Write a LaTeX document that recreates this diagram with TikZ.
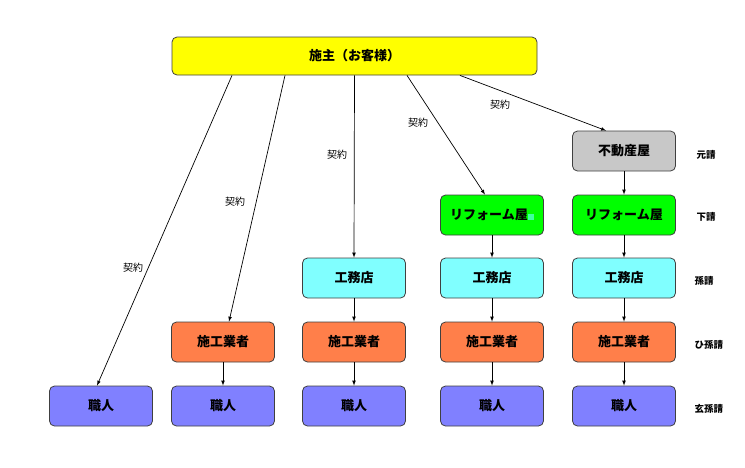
\documentclass[tikz,border=0pt]{standalone}
\usepackage{fontspec}
\setmainfont{Noto Sans CJK JP}
\usepackage{xcolor}
\definecolor{ownerY}{HTML}{FFFF00}
\definecolor{agentG}{HTML}{C8C8C8}
\definecolor{reformG}{HTML}{00FF00}
\definecolor{firmC}{HTML}{80FFFF}
\definecolor{workO}{HTML}{FF7F4A}
\definecolor{craftP}{HTML}{8080FF}
\definecolor{dotC}{HTML}{40FFA0}

\begin{document}
\begin{tikzpicture}[x=1pt,y=-1pt]
        \tikzset{box/.style={draw=black!75,rounded corners=5pt,line width=0.8pt,
                minimum width=103pt,minimum height=40pt,inner sep=0pt,
                font=\fontsize{13}{13}\selectfont\bfseries},
            keiyaku/.style={font=\fontsize{10}{10}\selectfont},
            rank/.style={anchor=west,font=\fontsize{9.5}{10}\selectfont\bfseries},
            link/.style={draw,-latex,line width=0.7pt}}
        \useasboundingbox (0,0) rectangle (745,467);
        % top
        \node[box,fill=ownerY,minimum width=365pt,minimum height=38pt] (owner) at (354.5,56) {施主（お客様）};
        % column 1
        \node[box,fill=craftP] (sk1) at (101,406) {職人};
        % column 2
        \node[box,fill=workO] (sg2) at (223,342) {施工業者};
        \node[box,fill=craftP] (sk2) at (223,406) {職人};
        % column 3
        \node[box,fill=firmC] (km3) at (354,278) {工務店};
        \node[box,fill=workO] (sg3) at (354,342) {施工業者};
        \node[box,fill=craftP] (sk3) at (354,406) {職人};
        % column 4
        \node[box,fill=reformG] (rf4) at (492,215) {リフォーム屋\textcolor{dotC}{\rule{6pt}{6pt}}};
        \node[box,fill=firmC] (km4) at (492,278) {工務店};
        \node[box,fill=workO] (sg4) at (492,342) {施工業者};
        \node[box,fill=craftP] (sk4) at (492,406) {職人};
        % column 5
        \node[box,fill=agentG] (fd5) at (624,151) {不動産屋};
        \node[box,fill=reformG] (rf5) at (624,215) {リフォーム屋};
        \node[box,fill=firmC] (km5) at (624,278) {工務店};
        \node[box,fill=workO] (sg5) at (624,342) {施工業者};
        \node[box,fill=craftP] (sk5) at (624,406) {職人};
        % ranks
        \node[rank] (r1) at (693,155) {元請};
        \node[rank] (r2) at (693,217) {下請};
        \node[rank] (r3) at (691,281) {孫請};
        \node[rank] (r4) at (691,345) {ひ孫請};
        \node[rank] (r5) at (691,409) {玄孫請};
        % contracts
        \path[link] ([xshift=-122.5pt]owner.south) -- ([xshift=-4pt]sk1.north);
        \path[link] ([xshift=-69.5pt]owner.south) -- ([xshift=6pt]sg2.north);
        \path[link] (owner.south) -- (km3.north);
        \path[link] ([xshift=52.5pt]owner.south) -- ([xshift=-7pt]rf4.north);
        \path[link] ([xshift=105.5pt]owner.south) -- ([xshift=-18pt]fd5.north);
        \node[keiyaku] (k1) at (133,268) {契約};
        \node[keiyaku] (k2) at (235,202) {契約};
        \node[keiyaku] (k3) at (337,155) {契約};
        \node[keiyaku] (k4) at (418,123) {契約};
        \node[keiyaku] (k5) at (500,105) {契約};
        % chains
        \path[link] (sg2) -- (sk2);
        \path[link] (km3) -- (sg3);
        \path[link] (sg3) -- (sk3);
        \path[link] (rf4) -- (km4);
        \path[link] (km4) -- (sg4);
        \path[link] (sg4) -- (sk4);
        \path[link] (fd5) -- (rf5);
        \path[link] (rf5) -- (km5);
        \path[link] (km5) -- (sg5);
        \path[link] (sg5) -- (sk5);
    \end{tikzpicture}
\end{document}
